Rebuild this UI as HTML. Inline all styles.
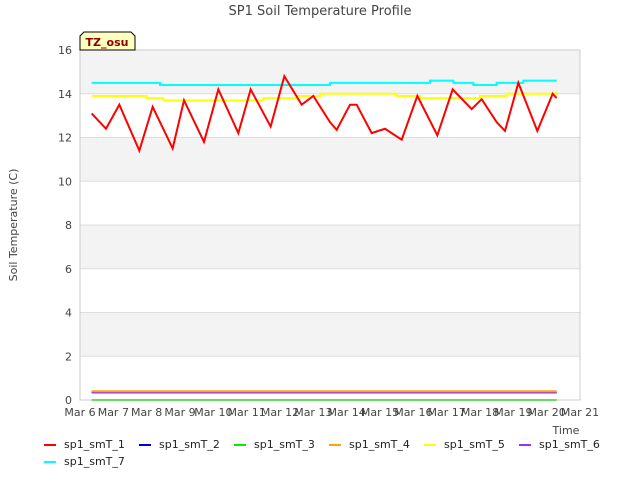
<!DOCTYPE html>
<html><head><meta charset="utf-8"><style>
body{margin:0;background:#fff;font-family:"Liberation Sans","DejaVu Sans",sans-serif}
svg text{font-family:"DejaVu Sans","Liberation Sans",sans-serif}
</style></head><body>
<svg id="c" width="640" height="480" xmlns="http://www.w3.org/2000/svg">
<text x="320" y="15" text-anchor="middle" font-size="13" fill="#444">SP1 Soil Temperature Profile</text>
<text transform="translate(17,225) rotate(-90)" text-anchor="middle" font-size="11" fill="#444">Soil Temperature (C)</text>
<text x="566" y="434" text-anchor="middle" font-size="11" fill="#444">Time</text>
<g id="bands"></g><g id="grid"></g><g id="ticks"></g><g id="series"></g>
<rect x="80" y="50" width="500" height="350" fill="none" stroke="#ccc"/>
<g><path d="M80,50 V36 l4,-4 h47 l4,4 V50 Z" fill="#ffffc0" stroke="#000"/><text x="107" y="46" text-anchor="middle" font-size="11" font-weight="bold" fill="#8b0000">TZ_osu</text></g>
<g id="legend"></g>
</svg>
<script>
const yTicks=[0,2,4,6,8,10,12,14,16];
const xTickLabels=["Mar 6","Mar 7","Mar 8","Mar 9","Mar 10","Mar 11","Mar 12","Mar 13","Mar 14","Mar 15","Mar 16","Mar 17","Mar 18","Mar 19","Mar 20","Mar 21"];
const seriesNames=["sp1_smT_1","sp1_smT_2","sp1_smT_3","sp1_smT_4","sp1_smT_5","sp1_smT_6","sp1_smT_7"];
const seriesColors=["#ff0000","#0000cc","#00ee00","#ffa500","#ffff00","#9b30ff","#00ffff"];
const t1Days=[0.35,0.78,1.18,1.78,2.18,2.78,3.12,3.72,4.15,4.75,5.12,5.72,6.13,6.65,7.0,7.5,7.7,8.1,8.3,8.75,9.15,9.65,10.12,10.72,11.18,11.75,12.05,12.5,12.75,13.15,13.72,14.18,14.3];
const t1Vals=[13.1,12.4,13.5,11.4,13.4,11.5,13.7,11.8,14.2,12.2,14.2,12.5,14.8,13.5,13.9,12.7,12.35,13.5,13.5,12.2,12.4,11.9,13.9,12.1,14.2,13.3,13.75,12.7,12.3,14.5,12.3,14.0,13.8];
const t5Days=[0.35,2.0,2.5,3.5,4.5,5.5,6.5,7.2,8.5,9.5,10.2,11.0,12.0,12.8,13.5,14.3];
const t5Vals=[13.9,13.8,13.7,13.7,13.7,13.8,13.9,14.0,14.0,13.9,13.8,13.8,13.9,14.0,14.0,14.1];
const t7Days=[0.35,2.4,6.5,7.5,10.5,11.2,11.8,12.5,13.3,14.3];
const t7Vals=[14.5,14.4,14.4,14.5,14.6,14.5,14.4,14.5,14.6,14.6];
const flatStart=0.35, flatEnd=14.3;
const flatVals={"sp1_smT_2":0.35,"sp1_smT_3":0.0,"sp1_smT_4":0.4,"sp1_smT_6":0.35};
const X0=80,X1=580,Y0=400,Y1=50;
const xs=d=>X0+d*(X1-X0)/15, ys=v=>Y0-v*(Y0-Y1)/16;
const NS="http://www.w3.org/2000/svg";
function mk(tag,attrs,parent){const e=document.createElementNS(NS,tag);for(const k in attrs)e.setAttribute(k,attrs[k]);document.getElementById(parent).appendChild(e);return e;}
for(let i=0;i<yTicks.length-1;i++){
 const r=mk('rect',{x:X0,y:ys(yTicks[i+1]),width:X1-X0,height:ys(yTicks[i])-ys(yTicks[i+1]),fill:(i%2==1)?'#f3f3f3':'#ffffff'},'bands');
 
 
}
yTicks.forEach(v=>{
 const l=mk('line',{x1:X0,x2:X1,y1:ys(v),y2:ys(v),stroke:'#ddd'},'grid');
 
 
 const t=mk('text',{x:72,y:ys(v)+4,'text-anchor':'end','font-size':'11',fill:'#444'},'ticks');t.textContent=v;
 
 
});
xTickLabels.forEach((s,i)=>{
 const t=mk('text',{x:xs(i),y:416,'text-anchor':'middle','font-size':'11',fill:'#444'},'ticks');t.textContent=s;
 
 
});
function line(days,vals,color,step,name){
 let d='';days.forEach((x,i)=>{
  if(i==0)d+='M'+xs(x)+','+ys(vals[i]);
  else if(step)d+='H'+xs(x)+'V'+ys(vals[i]);
  else d+='L'+xs(x)+','+ys(vals[i]);
 });
 if(step)d+='H'+xs(flatEnd);
 const p=mk('path',{d:d,fill:'none',stroke:color,'stroke-width':'2'},'series');
 
 
}
line([flatStart,flatEnd],[flatVals.sp1_smT_3,flatVals.sp1_smT_3],seriesColors[2],false,'sp1_smT_3');
line([flatStart,flatEnd],[flatVals.sp1_smT_2,flatVals.sp1_smT_2],seriesColors[1],false,'sp1_smT_2');
line([flatStart,flatEnd],[flatVals.sp1_smT_6,flatVals.sp1_smT_6],seriesColors[5],false,'sp1_smT_6');
line([flatStart,flatEnd],[flatVals.sp1_smT_4,flatVals.sp1_smT_4],seriesColors[3],false,'sp1_smT_4');
line(t7Days,t7Vals,seriesColors[6],true,'sp1_smT_7');
line(t5Days,t5Vals,seriesColors[4],true,'sp1_smT_5');
line(t1Days,t1Vals,seriesColors[0],false,'sp1_smT_1');
seriesNames.forEach((n,i)=>{
 const row=i<6?0:1, col=i<6?i:0;
 const x=44+col*95, y=444+row*17;
 const l=mk('line',{x1:x,x2:x+12,y1:y+1,y2:y+1,stroke:seriesColors[i],'stroke-width':'2'},'legend');
 
 
 const t=mk('text',{x:x+20,y:y+4,'font-size':'11',fill:'#222'},'legend');t.textContent=n;
 
 
});
</script>
</body></html>
